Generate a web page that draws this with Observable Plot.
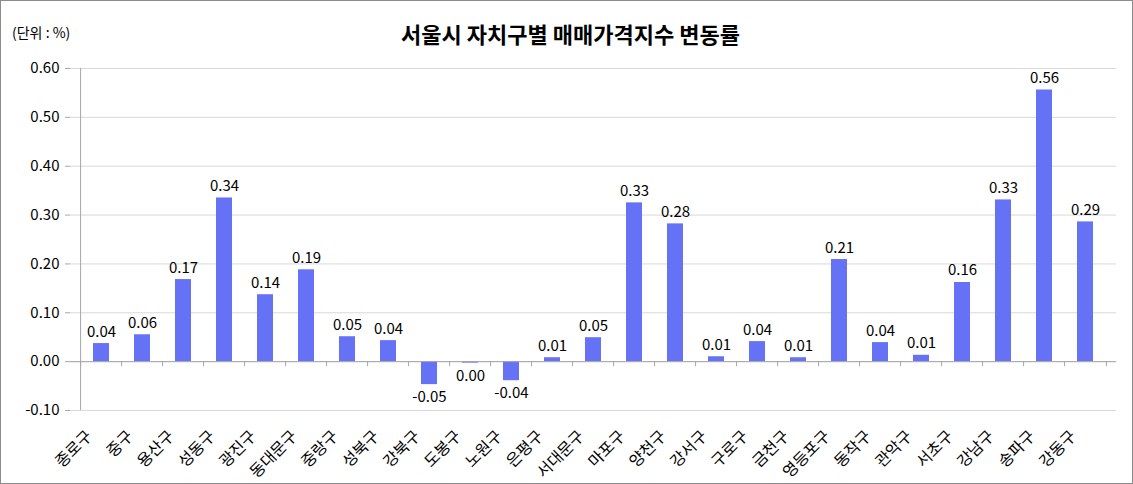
<!DOCTYPE html>
<html>
<head>
<meta charset="utf-8">
<script src="https://cdn.jsdelivr.net/npm/d3@7"></script>
<script src="https://cdn.jsdelivr.net/npm/@observablehq/plot@0.6"></script>
<style>
  html, body { margin: 0; padding: 0; background: #fff; }
  #wrap { position: relative; width: 1133px; height: 484px; overflow: hidden; font-family: "Noto Sans CJK KR", "Noto Sans", sans-serif; }
  #border { position: absolute; left: 0; top: 0; width: 1131px; height: 482px; border: 1px solid #8c8c8c; pointer-events: none; }
  #title { position: absolute; top: 18px; left: 8px; right: 0; text-align: center; font-size: 22px; line-height: 30px; font-weight: bold; color: #000; }
  #unit { position: absolute; top: 22px; left: 12px; font-size: 14px; color: #000; }
  #chart { position: absolute; left: 0; top: 0; }
</style>
</head>
<body>
<div id="wrap">
  <div id="chart"></div>
  <div id="title">서울시 자치구별 매매가격지수 변동률</div>
  <div id="unit">(단위 : %)</div>
  <div id="border"></div>
</div>
<script>
const districts = ["종로구","중구","용산구","성동구","광진구","동대문구","중랑구","성북구","강북구","도봉구","노원구","은평구","서대문구","마포구","양천구","강서구","구로구","금천구","영등포구","동작구","관악구","서초구","강남구","송파구","강동구"];
const values = [0.037,0.055,0.168,0.335,0.137,0.188,0.051,0.043,-0.047,-0.003,-0.039,0.008,0.049,0.325,0.282,0.010,0.041,0.008,0.209,0.039,0.013,0.162,0.331,0.556,0.286];
const yTicks = [-0.10,0.00,0.10,0.20,0.30,0.40,0.50,0.60];

const data = districts.map((d, i) => ({district: d, value: values[i]}));
const fmt = v => { const s = v.toFixed(2); return s === "-0.00" ? "0.00" : s; };

const W = 1133, H = 484;
const mL = 70, mR = 17, mT = 68, mB = 74;
const step = (W - mL - mR) / districts.length;
const font = '"Noto Sans CJK KR", "Noto Sans", sans-serif';

const chart = Plot.plot({
  width: W, height: H,
  marginLeft: mL, marginRight: mR, marginTop: mT, marginBottom: mB,
  style: {fontFamily: font, fontSize: "15px", color: "#000", background: "transparent", overflow: "visible"},
  x: {domain: districts, paddingInner: 0.6, paddingOuter: 0.3, label: null, axis: null},
  y: {domain: [-0.1, 0.6], label: null},
  marks: [
    Plot.gridY(yTicks, {stroke: "#d9d9d9", strokeOpacity: 1}),
    Plot.axisY(yTicks, {tickFormat: fmt, tickSize: 5, tickPadding: 6, stroke: "#a6a6a6", fontSize: 15, label: null}),
    Plot.barY(data, {x: "district", y: "value", fill: "#6672f5"}),
    Plot.ruleY([0], {stroke: "#a6a6a6"}),
    Plot.ruleX([districts[0]], {dx: -step / 2, y1: -0.1, y2: 0.6, stroke: "#a6a6a6"}),
    Plot.ruleX(districts, {dx: -step / 2, y1: 0, y2: -0.0105, stroke: "#a6a6a6"}),
    Plot.ruleX([districts[districts.length - 1]], {dx: step / 2, y1: 0, y2: -0.0105, stroke: "#a6a6a6"}),
    Plot.text(data, {x: "district", y: "value", text: d => fmt(d.value),
      lineAnchor: "bottom", fontSize: 15, fill: "#000",
      filter: d => d.value >= 0, dy: -7}),
    Plot.text(data, {x: "district", y: "value", text: d => fmt(d.value),
      lineAnchor: "top", fontSize: 15, fill: "#000",
      filter: d => d.value < 0, dy: 7}),
    Plot.text(districts, {x: d => d, y: -0.1, text: d => d, rotate: -45, textAnchor: "end",
      lineAnchor: "middle", fontSize: 16, fill: "#000", dx: -12, dy: 23})
  ]
});
document.getElementById("chart").appendChild(chart);
</script>
</body>
</html>
